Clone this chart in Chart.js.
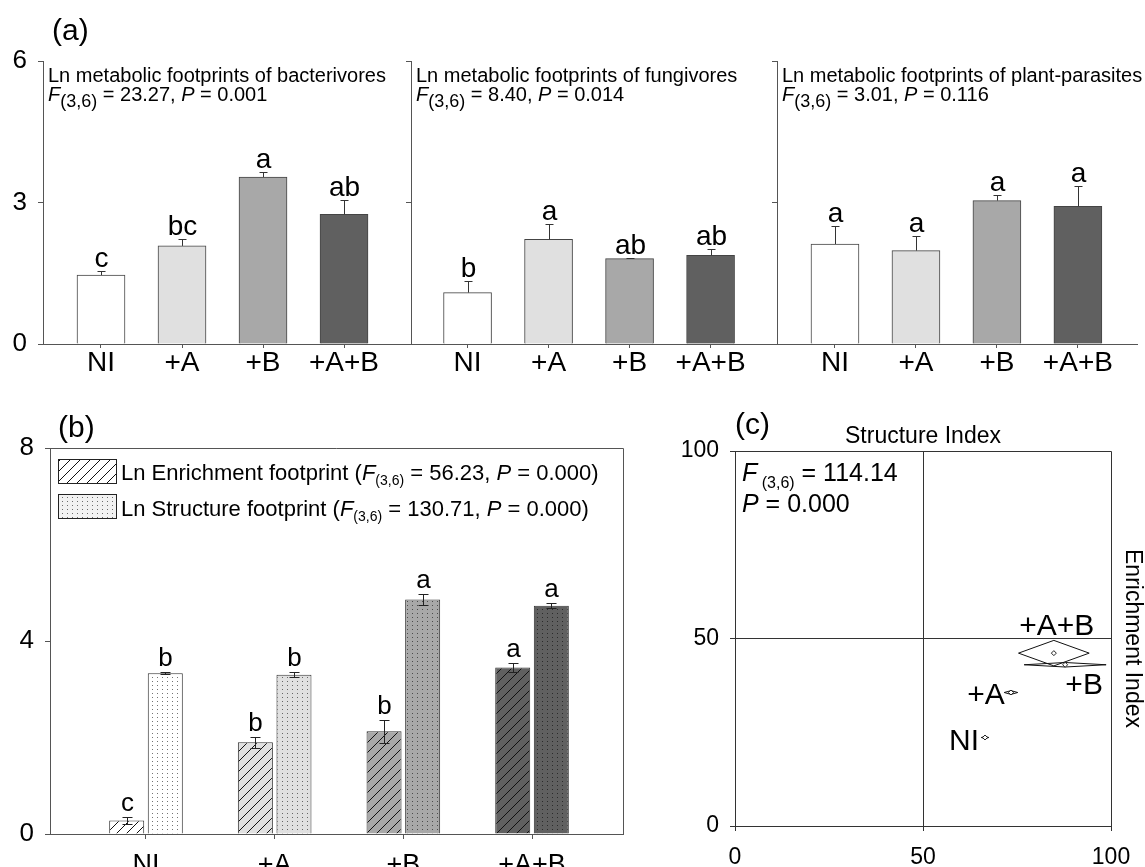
<!DOCTYPE html>
<html><head><meta charset="utf-8">
<script src="https://cdn.jsdelivr.net/npm/chart.js@4.4.1/dist/chart.umd.min.js"></script>
<style>
html,body{margin:0;padding:0;background:#fff;}
#wrap{position:relative;width:1145px;height:867px;overflow:hidden;background:#fff;}
canvas{position:absolute;}
</style></head><body>
<div id="wrap">
<canvas id="a1"></canvas><canvas id="a2"></canvas><canvas id="a3"></canvas>
<canvas id="b"></canvas><canvas id="c"></canvas>
</div>
<script>
// ---------------- DATA ----------------
const categories = ['NI', '+A', '+B', '+A+B'];
const barFills = ['#ffffff', '#e0e0e0', '#a8a8a8', '#606060'];

const bactMean = [1.46, 2.08, 3.54, 2.75];
const bactSE = [0.09, 0.14, 0.11, 0.30];
const bactLetters = ['c', 'bc', 'a', 'ab'];

const fungMean = [1.09, 2.22, 1.81, 1.88];
const fungSE = [0.25, 0.33, 0.02, 0.13];
const fungLetters = ['b', 'a', 'ab', 'ab'];

const plantMean = [2.12, 1.98, 3.04, 2.92];
const plantSE = [0.38, 0.31, 0.12, 0.43];
const plantLetters = ['a', 'a', 'a', 'a'];

const panelATicks = [0, 3, 6];

const enrichMean = [0.28, 1.90, 2.13, 3.45];
const enrichSE = [0.07, 0.12, 0.24, 0.09];
const enrichLetters = ['c', 'b', 'b', 'a'];

const structMean = [3.33, 3.30, 4.86, 4.73];
const structSE = [0.02, 0.05, 0.12, 0.05];
const structLetters = ['b', 'b', 'a', 'a'];

const panelBTicks = [0, 4, 8];

const siMean = [66.5, 73.4, 87.8, 84.8];
const siSE = [1.0, 1.8, 10.9, 9.4];
const eiMean = [23.6, 35.6, 43.0, 46.1];
const eiSE = [0.3, 0.5, 0.6, 3.4];
const panelCTicks = [0, 50, 100];

// ---------------- SETUP ----------------
const FONT = '"Liberation Sans", Arial, Helvetica, sans-serif';
Chart.defaults.font.family = FONT;
Chart.defaults.color = '#000';
Chart.defaults.animation = false;
Chart.defaults.plugins.legend.display = false;
Chart.defaults.plugins.tooltip.enabled = false;

function place(id, left, top, w, h) {
  const c = document.getElementById(id);
  c.style.left = left + 'px'; c.style.top = top + 'px';
  c.style.width = w + 'px'; c.style.height = h + 'px';
  c.width = w; c.height = h;
  return c;
}

function richText(ctx, x, y, segs, base) {
  let cx = x;
  for (const s of segs) {
    const size = s.size || base;
    ctx.font = (s.italic ? 'italic ' : '') + size + 'px ' + FONT;
    ctx.fillText(s.t, cx, y + (s.dy || 0));
    cx += ctx.measureText(s.t).width;
  }
}

function hatch(fill) {
  const n = 10;
  const c = document.createElement('canvas'); c.width = n; c.height = n;
  const g = c.getContext('2d');
  g.fillStyle = fill; g.fillRect(0, 0, n, n);
  g.strokeStyle = '#111'; g.lineWidth = 1;
  g.beginPath();
  g.moveTo(-2, n + 2); g.lineTo(n + 2, -2);
  g.moveTo(-2, 2); g.lineTo(2, -2);
  g.moveTo(n - 2, n + 2); g.lineTo(n + 2, n - 2);
  g.stroke();
  return g.createPattern(c, 'repeat');
}
function dots(fill) {
  const c = document.createElement('canvas'); c.width = 5; c.height = 4;
  const g = c.getContext('2d');
  g.fillStyle = fill; g.fillRect(0, 0, 5, 4);
  g.fillStyle = 'rgba(0,0,0,0.55)'; g.fillRect(2, 1, 1, 1);
  return g.createPattern(c, 'repeat');
}

// ---------------- PANEL A ----------------
function makePanelA(id, left, w, L, R, xmin, xmax, means, ses, letters, title, stat, showYLabels, panelLabel) {
  const H = 385, T = 61, B = 344;
  const cv = place(id, left, 0, w, H);
  const annot = {
    id: 'annotA',
    afterDatasetsDraw(chart) {
      const { ctx, chartArea, scales: { x, y } } = chart;
      ctx.save();
      ctx.strokeStyle = '#333'; ctx.lineWidth = 1;
      means.forEach((m, i) => {
        const px = Math.round(x.getPixelForValue(i + 1)) + 0.5;
        const y0 = y.getPixelForValue(m), y1 = Math.round(y.getPixelForValue(m + ses[i])) + 0.5;
        ctx.beginPath(); ctx.moveTo(px, y0); ctx.lineTo(px, y1);
        ctx.moveTo(px - 4, y1); ctx.lineTo(px + 4, y1); ctx.stroke();
        ctx.fillStyle = '#000'; ctx.font = '28px ' + FONT;
        ctx.textAlign = 'center'; ctx.textBaseline = 'alphabetic';
        ctx.fillText(letters[i], px, y1 - 5);
      });
      ctx.textAlign = 'left'; ctx.fillStyle = '#000';
      ctx.font = '20px ' + FONT;
      ctx.fillText(title, chartArea.left + 5, chartArea.top + 21);
      richText(ctx, chartArea.left + 5, chartArea.top + 40, stat, 20);
      if (panelLabel) { ctx.font = '30px ' + FONT; ctx.fillText(panelLabel, 52, 40); }
      ctx.restore();
    }
  };
  return new Chart(cv, {
    type: 'bar',
    data: {
      datasets: [{
        data: means.map((v, i) => ({ x: i + 1, y: v })),
        backgroundColor: barFills,
        borderColor: '#444', borderWidth: 1,
        barThickness: 48
      }]
    },
    options: {
      responsive: false, devicePixelRatio: 1,
      layout: { padding: { top: T, right: w - R, left: 0, bottom: 0 } },
      scales: {
        x: {
          type: 'linear', min: xmin, max: xmax, offset: false,
          afterFit: s => { s.height = H - B; },
          afterBuildTicks: s => { s.ticks = categories.map((c, i) => ({ value: i + 1 })); },
          ticks: { callback: v => categories[v - 1], font: { size: 28 }, color: '#000', padding: -2, autoSkip: false, maxRotation: 0 },
          grid: { display: true, drawOnChartArea: false, drawTicks: true, tickLength: 4, tickColor: '#555', offset: false },
          border: { display: true, color: '#555', width: 1 }
        },
        y: {
          min: 0, max: 6,
          afterFit: s => { s.width = L; },
          afterBuildTicks: s => { s.ticks = panelATicks.map(v => ({ value: v })); },
          ticks: { display: showYLabels, font: { size: 26 }, color: '#000', padding: 11 },
          grid: { display: true, drawOnChartArea: false, drawTicks: true, tickLength: 5, tickColor: '#555' },
          border: { display: true, color: '#555', width: 1 }
        }
      }
    },
    plugins: [annot]
  });
}

makePanelA('a1', 0, 420, 43, 411, 0.284, 4.827, bactMean, bactSE, bactLetters,
  'Ln metabolic footprints of bacterivores',
  [{ t: 'F', italic: true }, { t: '(3,6)', size: 18, dy: 6 }, { t: ' = 23.27, ' }, { t: 'P', italic: true }, { t: ' = 0.001' }],
  true, '(a)');
makePanelA('a2', 370, 420, 41, 407, 0.302, 4.82, fungMean, fungSE, fungLetters,
  'Ln metabolic footprints of fungivores',
  [{ t: 'F', italic: true }, { t: '(3,6)', size: 18, dy: 6 }, { t: ' = 8.40, ' }, { t: 'P', italic: true }, { t: ' = 0.014' }],
  false, null);
makePanelA('a3', 740, 405, 37, 397, 0.284, 4.73, plantMean, plantSE, plantLetters,
  'Ln metabolic footprints of plant-parasites',
  [{ t: 'F', italic: true }, { t: '(3,6)', size: 18, dy: 6 }, { t: ' = 3.01, ' }, { t: 'P', italic: true }, { t: ' = 0.116' }],
  false, null);

// ---------------- PANEL B ----------------
(function () {
  const W = 660, H = 487, L = 50, T = 68, R = 623, B = 454;
  const cv = place('b', 0, 380, W, H);
  const annot = {
    id: 'annotB',
    afterDatasetsDraw(chart) {
      const { ctx, chartArea, scales: { x, y } } = chart;
      ctx.save();
      // frame
      ctx.strokeStyle = '#555'; ctx.lineWidth = 1;
      ctx.beginPath();
      ctx.moveTo(chartArea.left, chartArea.top + 0.5); ctx.lineTo(chartArea.right + 0.5, chartArea.top + 0.5);
      ctx.lineTo(chartArea.right + 0.5, chartArea.bottom);
      ctx.stroke();
      // error bars + letters
      const sets = [[enrichMean, enrichSE, enrichLetters], [structMean, structSE, structLetters]];
      sets.forEach((s, di) => {
        const meta = chart.getDatasetMeta(di);
        s[0].forEach((m, i) => {
          const px = Math.round(meta.data[i].x) + 0.5;
          const yt = Math.round(y.getPixelForValue(m + s[1][i])) + 0.5;
          const yb = Math.round(y.getPixelForValue(m - s[1][i])) + 0.5;
          ctx.strokeStyle = '#222';
          ctx.beginPath();
          ctx.moveTo(px, yt); ctx.lineTo(px, yb);
          ctx.moveTo(px - 5, yt); ctx.lineTo(px + 5, yt);
          ctx.moveTo(px - 5, yb); ctx.lineTo(px + 5, yb);
          ctx.stroke();
          ctx.fillStyle = '#000'; ctx.font = '26px ' + FONT;
          ctx.textAlign = 'center'; ctx.textBaseline = 'alphabetic';
          ctx.fillText(s[2][i], px, yt - 7);
        });
      });
      // legend
      ctx.textAlign = 'left';
      const boxes = [[hatch('#ffffff'), 79], [dots('#f2f2f2'), 114]];
      boxes.forEach(([pat, top]) => {
        ctx.fillStyle = pat; ctx.fillRect(58, top, 59, 25);
        ctx.strokeStyle = '#222'; ctx.strokeRect(58.5, top + 0.5, 58, 24);
      });
      ctx.fillStyle = '#000';
      richText(ctx, 121, 100, [{ t: 'Ln Enrichment footprint (' }, { t: 'F', italic: true }, { t: '(3,6)', size: 14, dy: 5 }, { t: ' = 56.23, ' }, { t: 'P', italic: true }, { t: ' = 0.000)' }], 22);
      richText(ctx, 121, 136, [{ t: 'Ln Structure footprint (' }, { t: 'F', italic: true }, { t: '(3,6)', size: 14, dy: 5 }, { t: ' = 130.71, ' }, { t: 'P', italic: true }, { t: ' = 0.000)' }], 22);
      ctx.font = '30px ' + FONT; ctx.fillText('(b)', 58, 57);
      ctx.restore();
    }
  };
  new Chart(cv, {
    type: 'bar',
    data: {
      datasets: [
        { data: enrichMean.map((v, i) => ({ x: i + 1, y: v })), backgroundColor: barFills.map(hatch), borderColor: '#333', borderWidth: 1, categoryPercentage: 0.6, barPercentage: 0.907 },
        { data: structMean.map((v, i) => ({ x: i + 1, y: v })), backgroundColor: barFills.map(dots), borderColor: '#333', borderWidth: 1, categoryPercentage: 0.6, barPercentage: 0.907 }
      ]
    },
    options: {
      responsive: false, devicePixelRatio: 1,
      layout: { padding: { top: T, right: W - R, left: 0, bottom: 0 } },
      scales: {
        x: {
          type: 'linear', min: 0.254, max: 4.707, offset: false,
          afterFit: s => { s.height = H - B; },
          afterBuildTicks: s => { s.ticks = categories.map((c, i) => ({ value: i + 1 })); },
          ticks: { callback: v => categories[v - 1], font: { size: 27 }, color: '#000', padding: 10, autoSkip: false, maxRotation: 0 },
          grid: { display: true, drawOnChartArea: false, drawTicks: true, tickLength: 5, tickColor: '#555', offset: false },
          border: { display: true, color: '#555', width: 1 }
        },
        y: {
          min: 0, max: 8,
          afterFit: s => { s.width = L; },
          afterBuildTicks: s => { s.ticks = panelBTicks.map(v => ({ value: v })); },
          ticks: { font: { size: 26 }, color: '#000', padding: 11 },
          grid: { display: true, drawOnChartArea: false, drawTicks: true, tickLength: 5, tickColor: '#555' },
          border: { display: true, color: '#555', width: 1 }
        }
      }
    },
    plugins: [annot]
  });
})();

// ---------------- PANEL C ----------------
(function () {
  const W = 505, H = 487, L = 95, T = 71, R = 471, B = 446;
  const cv = place('c', 640, 380, W, H);
  const labelOffsets = [[-21, 4], [-25, 3], [19, 21], [3, -26]];
  const annot = {
    id: 'annotC',
    beforeDatasetsDraw(chart) {
      const { ctx, chartArea, scales: { x, y } } = chart;
      ctx.save();
      ctx.strokeStyle = '#333'; ctx.lineWidth = 1;
      ctx.beginPath();
      ctx.moveTo(chartArea.left, chartArea.top + 0.5); ctx.lineTo(chartArea.right + 0.5, chartArea.top + 0.5);
      ctx.lineTo(chartArea.right + 0.5, chartArea.bottom);
      ctx.stroke();
      ctx.strokeStyle = '#111';
      siMean.forEach((m, i) => {
        const l = x.getPixelForValue(m - siSE[i]), r = x.getPixelForValue(m + siSE[i]);
        const cx = x.getPixelForValue(m), cy = y.getPixelForValue(eiMean[i]);
        const t = y.getPixelForValue(eiMean[i] + eiSE[i]), b = y.getPixelForValue(eiMean[i] - eiSE[i]);
        ctx.beginPath();
        ctx.moveTo(l, cy); ctx.lineTo(cx, t); ctx.lineTo(r, cy); ctx.lineTo(cx, b); ctx.closePath();
        ctx.stroke();
      });
      ctx.restore();
    },
    afterDatasetsDraw(chart) {
      const { ctx, chartArea, scales: { x, y } } = chart;
      ctx.save();
      ctx.fillStyle = '#000';
      ctx.font = '30px ' + FONT; ctx.textAlign = 'center'; ctx.textBaseline = 'middle';
      categories.forEach((c, i) => {
        const px = x.getPixelForValue(siMean[i]) + labelOffsets[i][0];
        const py = y.getPixelForValue(eiMean[i]) + labelOffsets[i][1];
        ctx.fillText(c, px, py);
      });
      ctx.textBaseline = 'alphabetic'; ctx.textAlign = 'left';
      richText(ctx, chartArea.left + 7, chartArea.top + 30, [{ t: 'F', italic: true }, { t: ' (3,6)', size: 16, dy: 7 }, { t: ' = 114.14' }], 25);
      richText(ctx, chartArea.left + 7, chartArea.top + 61, [{ t: 'P', italic: true }, { t: ' = 0.000' }], 25);
      ctx.textAlign = 'center';
      ctx.font = '23px ' + FONT;
      ctx.fillText('Structure Index', (chartArea.left + chartArea.right) / 2, chartArea.top - 8);
      ctx.save();
      ctx.translate(chartArea.right + 10, (chartArea.top + chartArea.bottom) / 2);
      ctx.rotate(Math.PI / 2);
      ctx.textBaseline = 'bottom';
      ctx.fillText('Enrichment Index', 0, 0);
      ctx.restore();
      ctx.textAlign = 'left';
      ctx.font = '30px ' + FONT; ctx.fillText('(c)', 95, 54);
      ctx.restore();
    }
  };
  const gridCol = c => (c.tick && c.tick.value === 50) ? '#333' : 'rgba(0,0,0,0)';
  new Chart(cv, {
    type: 'scatter',
    data: {
      datasets: [{
        data: siMean.map((v, i) => ({ x: v, y: eiMean[i] })),
        pointStyle: 'rectRot', radius: 2.5, borderColor: '#222', borderWidth: 1, backgroundColor: '#fff'
      }]
    },
    options: {
      responsive: false, devicePixelRatio: 1,
      layout: { padding: { top: T, right: W - R, left: 0, bottom: 0 } },
      scales: {
        x: {
          type: 'linear', min: 0, max: 100,
          afterFit: s => { s.height = H - B; },
          afterBuildTicks: s => { s.ticks = panelCTicks.map(v => ({ value: v })); },
          ticks: { font: { size: 23 }, color: '#000', padding: 13 },
          grid: { display: true, drawOnChartArea: true, color: gridCol, drawTicks: true, tickLength: 5, tickColor: '#333' },
          border: { display: true, color: '#333', width: 1 }
        },
        y: {
          min: 0, max: 100,
          afterFit: s => { s.width = L; },
          afterBuildTicks: s => { s.ticks = panelCTicks.map(v => ({ value: v })); },
          ticks: { font: { size: 23 }, color: '#000', padding: 11 },
          grid: { display: true, drawOnChartArea: true, color: gridCol, drawTicks: true, tickLength: 5, tickColor: '#333' },
          border: { display: true, color: '#333', width: 1 }
        }
      }
    },
    plugins: [annot]
  });
})();
</script>
</body></html>
